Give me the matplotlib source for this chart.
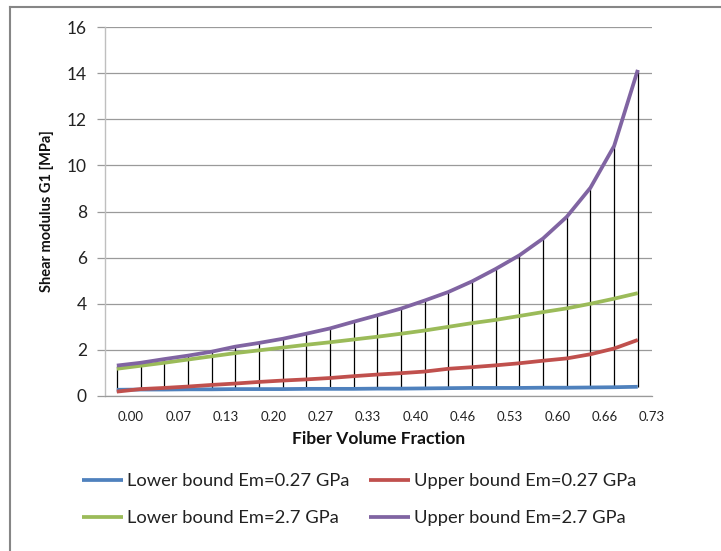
import matplotlib
matplotlib.use("Agg")
import matplotlib.pyplot as plt
from matplotlib.lines import Line2D

plt.rcParams['font.family'] = ['Lato', 'DejaVu Sans']

# ---- data ----
fractions = [0.00, 0.03, 0.07, 0.10, 0.13, 0.17, 0.20, 0.23, 0.27, 0.30, 0.33, 0.37,
             0.40, 0.43, 0.46, 0.50, 0.53, 0.56, 0.60, 0.63, 0.66, 0.70, 0.73]
tick_labels = ["0.00", "0.07", "0.13", "0.20", "0.27", "0.33", "0.40", "0.46",
               "0.53", "0.60", "0.66", "0.73"]
lower_027 = [0.27, 0.28, 0.28, 0.29, 0.29, 0.30, 0.30, 0.30, 0.31, 0.31, 0.31, 0.32,
             0.32, 0.33, 0.34, 0.35, 0.35, 0.35, 0.36, 0.36, 0.37, 0.38, 0.40]
upper_027 = [0.19, 0.30, 0.35, 0.41, 0.48, 0.54, 0.61, 0.67, 0.72, 0.78, 0.86, 0.93,
             0.99, 1.06, 1.18, 1.25, 1.33, 1.42, 1.53, 1.63, 1.81, 2.06, 2.43]
lower_27 = [1.18, 1.31, 1.44, 1.58, 1.72, 1.86, 1.98, 2.10, 2.22, 2.33, 2.45, 2.57,
            2.70, 2.84, 3.00, 3.16, 3.30, 3.47, 3.64, 3.80, 4.00, 4.22, 4.46]
upper_27 = [1.32, 1.44, 1.60, 1.75, 1.92, 2.14, 2.30, 2.48, 2.70, 2.93, 3.22, 3.50,
            3.79, 4.14, 4.51, 4.97, 5.51, 6.10, 6.83, 7.77, 9.03, 10.84, 14.14]
series_names = ["Lower bound Em=0.27 GPa", "Upper bound Em=0.27 GPa",
                "Lower bound Em=2.7 GPa", "Upper bound Em=2.7 GPa"]
colors = ["#4F81BD", "#C0504D", "#9BBB59", "#8064A2"]

W, H = 721, 551
fig = plt.figure(figsize=(W / 100, H / 100), dpi=100)

def fx(px):
    return px / W

def fy(py):
    return 1 - py / H

L, R, T, B = 105, 652, 27, 396
ax = fig.add_axes([fx(L), fy(B), fx(R - L), (B - T) / H])

n = len(fractions)
x = list(range(n))
all_series = [lower_027, upper_027, lower_27, upper_27]

# high-low lines
lows = [min(v) for v in zip(*all_series)]
highs = [max(v) for v in zip(*all_series)]
ax.vlines(x, lows, highs, colors="black", linewidth=0.9, zorder=2)

handles = []
for vals, name, c in zip(all_series, series_names, colors):
    h, = ax.plot(x, vals, color=c, linewidth=2.7, label=name, zorder=3,
                 solid_capstyle="butt")
    handles.append(h)

ax.set_xlim(-0.5, n - 0.5)
ax.set_ylim(0, 16)
ax.set_yticks(range(0, 17, 2))
ax.set_xticks([2 * k + 0.6 for k in range(len(tick_labels))])
ax.set_xticklabels(tick_labels)

ax.grid(axis="y", color="#9A9A9A", linewidth=0.9)
ax.set_axisbelow(True)
for s in ("top", "right"):
    ax.spines[s].set_visible(False)
ax.spines["left"].set_color("#BFBFBF")
ax.spines["left"].set_linewidth(1.0)
ax.spines["bottom"].set_color("#9A9A9A")
ax.spines["bottom"].set_linewidth(0.9)
ax.tick_params(axis="y", length=6, width=0.9, color="#9A9A9A", labelsize=12.5,
               pad=7, labelcolor="#222222")
ax.tick_params(axis="x", length=0, labelsize=9.5, pad=11, labelcolor="#222222")

fig.text(fx(47), fy(211), "Shear modulus G1 [MPa]", rotation=90, ha="center",
         va="center", fontsize=10.5, fontweight="bold", color="#111111")
fig.text(fx(379), fy(439), "Fiber Volume Fraction", ha="center", va="center",
         fontsize=12.5, fontweight="bold", color="#111111")

order = [0, 2, 1, 3]
leg = fig.legend([handles[i] for i in order], [series_names[i] for i in order],
                 ncol=2, loc="upper left", bbox_to_anchor=(fx(82), fy(473)),
                 frameon=False, fontsize=13.2, handlelength=2.25, handletextpad=0.2,
                 columnspacing=1.05, labelspacing=1.15, borderaxespad=0,
                 borderpad=0)
for t in leg.get_texts():
    t.set_color("#222222")

# outer chart frame (left and top edges visible)
fig.add_artist(Line2D([fx(10), fx(10)], [fy(7), 0], transform=fig.transFigure,
                      color="#868686", linewidth=1.5))
fig.add_artist(Line2D([fx(10), 1], [fy(7), fy(7)], transform=fig.transFigure,
                      color="#868686", linewidth=1.5))

fig.savefig("out.png", dpi=100)
